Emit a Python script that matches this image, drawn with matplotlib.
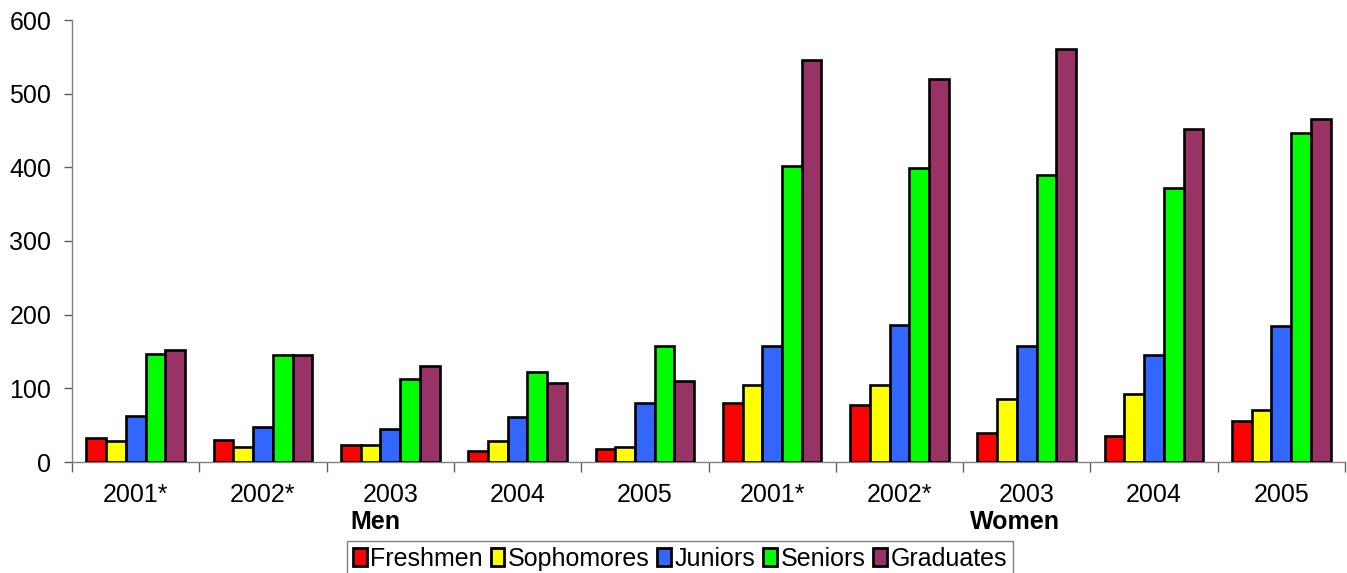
import matplotlib
matplotlib.use("Agg")
import matplotlib.pyplot as plt
import numpy as np

plt.rcParams['font.family'] = ['Liberation Sans', 'DejaVu Sans']

years = ["2001*", "2002*", "2003", "2004", "2005", "2001*", "2002*", "2003", "2004", "2005"]
groups = ["Men", "Women"]
series_names = ["Freshmen", "Sophomores", "Juniors", "Seniors", "Graduates"]
freshmen = [33, 30, 23, 15, 17, 80, 77, 40, 35, 55]
sophomores = [29, 21, 23, 28, 21, 105, 104, 85, 92, 71]
juniors = [63, 48, 45, 61, 80, 157, 186, 157, 145, 184]
seniors = [146, 145, 112, 122, 157, 402, 399, 390, 372, 446]
graduates = [152, 145, 130, 107, 110, 546, 520, 561, 452, 465]
colors = ["#FF0000", "#FFFF00", "#3366FF", "#00FF00", "#993366"]

data = [freshmen, sophomores, juniors, seniors, graduates]

fig = plt.figure(figsize=(13.47, 5.73), dpi=100)
W, H = 1347, 573
ax = fig.add_axes([72 / W, (H - 462) / H, (1345 - 72) / W, (462 - 20) / H])

x = np.arange(len(years))
bw = 0.155
for k, (vals, c, name) in enumerate(zip(data, colors, series_names)):
    ax.bar(x + (k - 2) * bw, vals, width=bw, color=c, edgecolor="black",
           linewidth=1.9, label=name, zorder=3)

ax.set_xlim(-0.5, len(years) - 0.5)
ax.set_ylim(0, 600)
ax.set_yticks(np.arange(0, 601, 100))
ax.tick_params(axis='y', length=6, width=1, color='#606060', pad=9, labelsize=18)

ax.set_xticks(np.arange(-0.5, len(years), 1.0))
ax.set_xticklabels([])
ax.tick_params(axis='x', length=7, width=1, color='#606060')

for s in ['top', 'right']:
    ax.spines[s].set_visible(False)
for s in ['left', 'bottom']:
    ax.spines[s].set_color('#808080')
    ax.spines[s].set_linewidth(1)

trans = ax.get_xaxis_transform()
axh = 462 - 20
for i, lab in enumerate(years):
    ax.text(i, -(495 - 462) / axh, lab, transform=trans, ha='center', va='center', fontsize=18)
ax.text(1.88, -(522 - 462) / axh, groups[0], transform=trans, ha='center', va='center',
        fontsize=18, fontweight='bold')
ax.text(6.91, -(522 - 462) / axh, groups[1], transform=trans, ha='center', va='center',
        fontsize=18, fontweight='bold')

leg = fig.legend(loc='center', bbox_to_anchor=(680 / W, (H - 559) / H), ncol=5,
                 fontsize=18, frameon=True, fancybox=False, shadow=False,
                 handlelength=0.55, handleheight=0.75, handletextpad=0.15,
                 columnspacing=0.3, borderpad=0.25, borderaxespad=0)
leg.get_frame().set_edgecolor('#606060')
leg.get_frame().set_linewidth(1)
for p in leg.get_patches():
    p.set_linewidth(2)

fig.savefig("out.png", dpi=100)
